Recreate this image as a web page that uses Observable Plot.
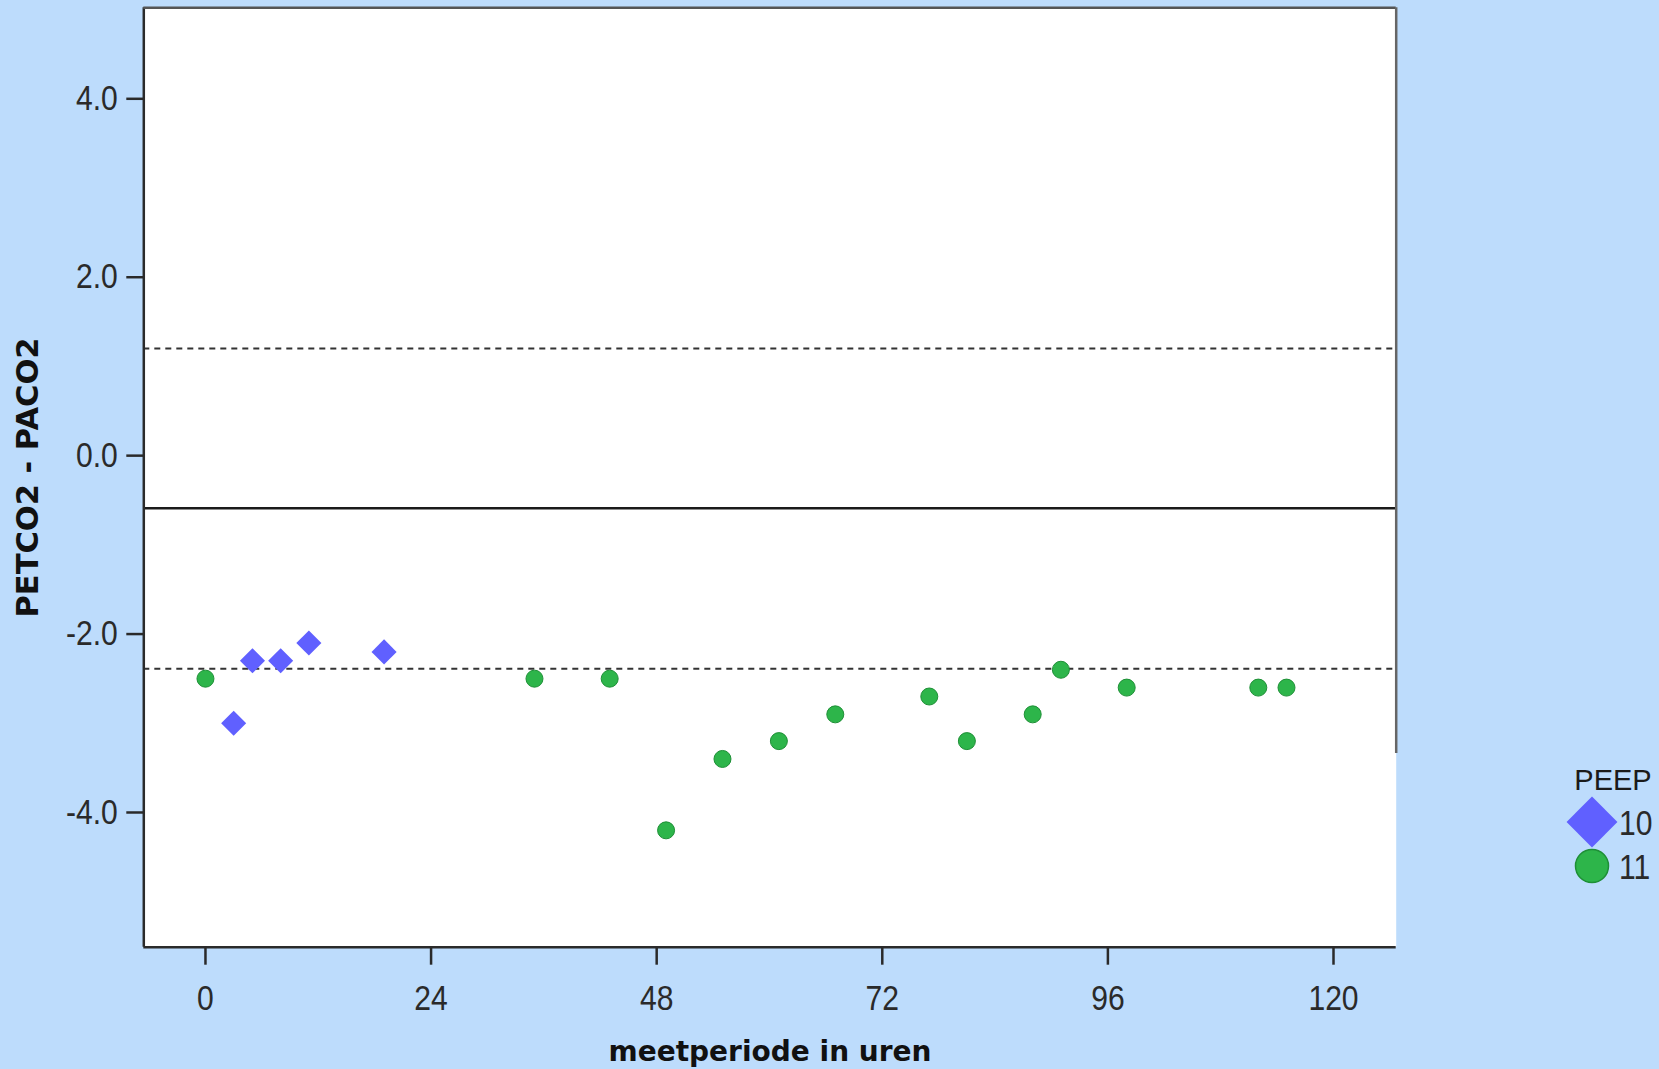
<!DOCTYPE html>
<html>
<head>
<meta charset="utf-8">
<script src="https://cdn.jsdelivr.net/npm/d3@7"></script>
<script src="https://cdn.jsdelivr.net/npm/@observablehq/plot@0.6"></script>
<style>
  html, body { margin: 0; padding: 0; background: #bddcfc; }
  #wrap { position: relative; width: 1659px; height: 1069px; overflow: hidden; }
  #legend { position: absolute; left: 1560px; top: 760px; width: 99px; height: 130px; }
</style>
</head>
<body>
<div id="wrap"><div id="chart"></div><div id="legend"></div></div>
<script>
// ---- data ----
const peep10Hours = [3, 5, 8, 11, 19];
const peep10Diff  = [-3.0, -2.3, -2.3, -2.1, -2.2];
const peep11Hours = [0, 35, 43, 49, 55, 61, 67, 77, 81, 88, 91, 98, 112, 115];
const peep11Diff  = [-2.5, -2.5, -2.5, -4.2, -3.4, -3.2, -2.9, -2.7, -3.2, -2.9, -2.4, -2.6, -2.6, -2.6];
const meanDiff = -0.59;
const limitsOfAgreement = [1.20, -2.39];
const xTicks = [0, 24, 48, 72, 96, 120];
const yTicks = [-4, -2, 0, 2, 4];
const legendTitle = "PEEP";
const legendLabels = ["10", "11"];
const xTitle = "meetperiode in uren";
const yTitle = "PETCO2 - PACO2";

// ---- build ----
const peep10 = peep10Hours.map((h, i) => ({hour: h, diff: peep10Diff[i]}));
const peep11 = peep11Hours.map((h, i) => ({hour: h, diff: peep11Diff[i]}));

const xDomain = [-6.56, 126.67];
const yDomain = [-5.51, 5.02];
const tickFont = "'Liberation Sans', Arial, sans-serif";
const narrowScale = 0.86;
const blue = "#6060ff";
const green = "#2db54a";
const greenStroke = "#1e8f36";

const chart = Plot.plot({
  width: 1659,
  height: 1069,
  marginLeft: 143.3,
  marginRight: 263.3,
  marginTop: 7.3,
  marginBottom: 122.3,
  style: {background: "transparent", overflow: "visible"},
  x: {domain: xDomain},
  y: {domain: yDomain},
  marks: [
    Plot.frame({fill: "white", stroke: null}),
    Plot.ruleY(limitsOfAgreement, {stroke: "#333", strokeWidth: 2, strokeDasharray: "6,5"}),
    Plot.ruleY([meanDiff], {stroke: "#1a1a1a", strokeWidth: 2.5}),
    Plot.dot(peep11, {x: "hour", y: "diff", r: 8.5, fill: green, stroke: greenStroke, strokeWidth: 1}),
    Plot.dot(peep10, {x: "hour", y: "diff", r: 11.3, symbol: "diamond2", fill: blue, stroke: "none"}),
    Plot.ruleX([xDomain[0]], {stroke: "#2b2b2b", strokeWidth: 2.5}),
    Plot.ruleY([yDomain[0]], {stroke: "#2b2b2b", strokeWidth: 2.5}),
    Plot.ruleY([yDomain[1]], {stroke: "#555", strokeWidth: 2.5}),
    Plot.ruleX([xDomain[1]], {y1: yDomain[1], y2: -3.34, stroke: "#666", strokeWidth: 2.5}),
    Plot.axisX(xTicks, {tickSize: 18, tickPadding: 20, fontSize: 35, fontFamily: tickFont, color: "#2a2a2a", strokeWidth: 2.5, label: null, tickFormat: d => String(d), ariaLabel: "x-axis"}),
    Plot.axisY(yTicks, {tickSize: 17, tickPadding: 9, fontSize: 35, fontFamily: tickFont, color: "#2a2a2a", strokeWidth: 2.5, label: null, tickFormat: d => d.toFixed(1), ariaLabel: "y-axis"}),
    Plot.text([xTitle], {frameAnchor: "bottom", dy: 105, lineAnchor: "middle", textAnchor: "middle", fontSize: 28, fontWeight: "bold", fontFamily: "'DejaVu Sans', sans-serif", fill: "#111"}),
    Plot.text([yTitle], {frameAnchor: "left", rotate: -90, dx: -115.8, lineAnchor: "middle", textAnchor: "middle", fontSize: 30.5, fontWeight: "bold", fontFamily: "'DejaVu Sans', sans-serif", fill: "#111"})
  ]
});
document.getElementById("chart").appendChild(chart);

// narrow the tick labels (Arial Narrow look) by scaling around each label's anchor
d3.select(chart).selectAll("g[aria-label='x-axis'] text, g[aria-label='y-axis'] text, g[aria-label='x-axis tick label'] text, g[aria-label='y-axis tick label'] text")
  .each(function() {
    const t = this.getAttribute("transform") || "";
    if (!/scale/.test(t)) this.setAttribute("transform", (t + ` scale(${narrowScale},1)`).trim());
  });

// ---- legend ----
const lg = d3.select("#legend").append("svg").attr("width", 99).attr("height", 130)
  .style("overflow", "visible");
lg.append("text").attr("x", 53).attr("y", 30).attr("text-anchor", "middle")
  .style("font-family", "'Liberation Sans', Arial, sans-serif").style("font-size", "29px").style("fill", "#1a1a1a")
  .text(legendTitle);
lg.append("path").attr("transform", "translate(32,62)")
  .attr("d", d3.symbol(d3.symbolDiamond2, 1650)()).attr("fill", blue);
lg.append("circle").attr("cx", 32).attr("cy", 106).attr("r", 16.5)
  .attr("fill", green).attr("stroke", greenStroke).attr("stroke-width", 1.5);
legendLabels.forEach((t, i) => {
  lg.append("text").attr("transform", `translate(59,${62 + i * 44}) scale(${narrowScale},1)`).attr("dy", "0.36em")
    .style("font-family", tickFont).style("font-size", "35px").style("fill", "#2a2a2a")
    .text(t);
});
</script>
</body>
</html>
